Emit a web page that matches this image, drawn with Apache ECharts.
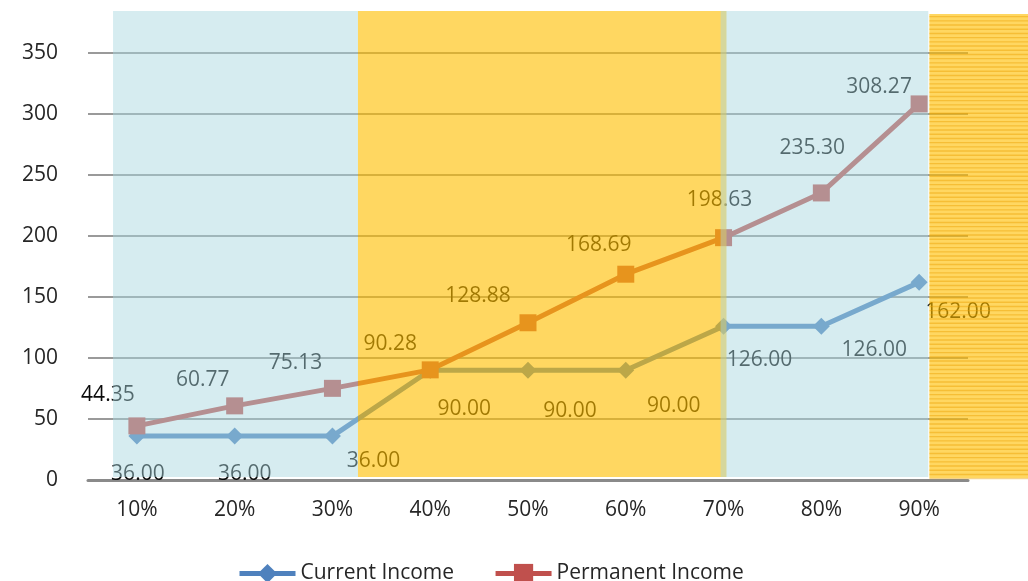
<!DOCTYPE html>
<html>
<head>
<meta charset="utf-8">
<script src="https://cdn.jsdelivr.net/npm/echarts@6/dist/echarts.min.js"></script>
<style>
  html, body { margin: 0; padding: 0; background: #fff; }
  #chart { width: 1028px; height: 581px; }
</style>
</head>
<body>
<div id="chart"></div>
<script>
// Income deciles and the two income measures
const categories = ['10%', '20%', '30%', '40%', '50%', '60%', '70%', '80%', '90%'];
const currentIncome = [36.00, 36.00, 36.00, 90.00, 90.00, 90.00, 126.00, 126.00, 162.00];
const permanentIncome = [44.35, 60.77, 75.13, 90.28, 128.88, 168.69, 198.63, 235.30, 308.27];
const yTicks = { min: 0, max: 350, step: 50 };

// Label placement around each point (pixels)
const currentOffsets = [[1, 38], [10, 38], [41, 25], [34, 39], [42, 41], [48, 36], [36, 34], [53, 24], [39, 30]];
const permanentOffsets = [[-29, -31], [-32, -26], [-37, -25], [-40, -26], [-50, -27], [-27, -29], [-4, -38], [-9, -45], [-40, -17]];

// Shaded regions laid over the plot, on a 0..9 horizontal scale: [x0, x1, y0, y1, kind]
const shading = [
  [0.256, 2.761, 2.4, 384.4, 'blue'],
  [2.761, 6.53, 2.4, 384.4, 'yellow'],
  [6.47, 8.594, 2.4, 384.4, 'blue'],
  [8.605, 10.5, 1.6, 382.0, 'stripe']
];

const FONT = '"Open Sans", "Noto Sans", sans-serif';
const TEXT = '#262626';

function withLabels(values, offsets) {
  return values.map((v, i) => ({
    value: v,
    label: { offset: offsets[i] }
  }));
}

const valueLabel = {
  show: true,
  position: 'inside',
  fontSize: 21,
  color: '#0a0a0a',
  fontFamily: FONT,
  formatter: p => p.value.toFixed(2)
};

const chart = echarts.init(document.getElementById('chart'), null, { renderer: 'canvas' });

chart.setOption({
  animation: false,
  backgroundColor: '#ffffff',
  textStyle: { fontFamily: FONT },
  grid: { left: 88, right: 60, top: 53, bottom: 101, containLabel: false },
  legend: {
    data: [
      { name: 'Current Income' },
      { name: 'Permanent Income' }
    ],
    left: 232,
    top: 558,
    itemWidth: 56,
    itemHeight: 24,
    itemGap: 39,
    lineStyle: { width: 5 },
    textStyle: { fontSize: 21, color: TEXT, fontFamily: FONT }
  },
  xAxis: [
    {
      type: 'category',
      data: categories,
      boundaryGap: true,
      axisLine: { show: true, lineStyle: { color: '#8a8a8a', width: 3 } },
      axisTick: { show: false },
      axisLabel: { fontSize: 21, color: TEXT, margin: 20, fontFamily: FONT },
      splitLine: { show: false }
    },
    {
      type: 'value',
      min: 0,
      max: 9,
      show: false
    }
  ],
  yAxis: {
    type: 'value',
    min: yTicks.min,
    max: yTicks.max,
    interval: yTicks.step,
    axisLine: { show: false },
    axisTick: { show: false },
    axisLabel: { fontSize: 21, color: TEXT, margin: 30, fontFamily: FONT },
    splitLine: { show: true, lineStyle: { color: '#9a9a9a', width: 2 } }
  },
  series: [
    {
      name: 'Current Income',
      type: 'line',
      data: withLabels(currentIncome, currentOffsets),
      symbol: 'diamond',
      symbolSize: 17,
      lineStyle: { width: 5, color: '#4f81bd' },
      itemStyle: { color: '#4f81bd' },
      label: valueLabel,
      z: 3
    },
    {
      name: 'Permanent Income',
      type: 'line',
      data: withLabels(permanentIncome, permanentOffsets),
      symbol: 'rect',
      symbolSize: 17,
      lineStyle: { width: 5, color: '#c0504d' },
      itemStyle: { color: '#c0504d' },
      label: valueLabel,
      z: 3
    },
    {
      name: 'shading',
      type: 'custom',
      xAxisIndex: 1,
      yAxisIndex: 0,
      clip: false,
      silent: true,
      z: 20,
      data: shading,
      encode: { x: [0, 1], y: [2, 3] },
      renderItem: function (params, api) {
        const x0 = api.value(0), x1 = api.value(1);
        const y0 = api.value(2), y1 = api.value(3);
        const kind = shading[params.dataIndex][4];
        const tl = api.coord([x0, y1]);
        const br = api.coord([x1, y0]);
        const rect = { x: tl[0], y: tl[1], width: br[0] - tl[0], height: br[1] - tl[1] };
        if (kind === 'blue') {
          return { type: 'rect', shape: rect, style: { fill: 'rgba(168,215,223,0.47)' } };
        }
        if (kind === 'yellow') {
          return { type: 'rect', shape: rect, style: { fill: 'rgba(255,190,0,0.62)' } };
        }
        // striped yellow block
        const children = [{ type: 'rect', shape: rect, style: { fill: 'rgba(255,190,0,0.62)' } }];
        for (let y = rect.y + 2; y < rect.y + rect.height; y += 4.2) {
          children.push({
            type: 'rect',
            shape: { x: rect.x, y: y, width: rect.width, height: 1.4 },
            style: { fill: 'rgba(235,160,0,0.45)' }
          });
        }
        return { type: 'group', children: children };
      }
    }
  ]
});
</script>
</body>
</html>
